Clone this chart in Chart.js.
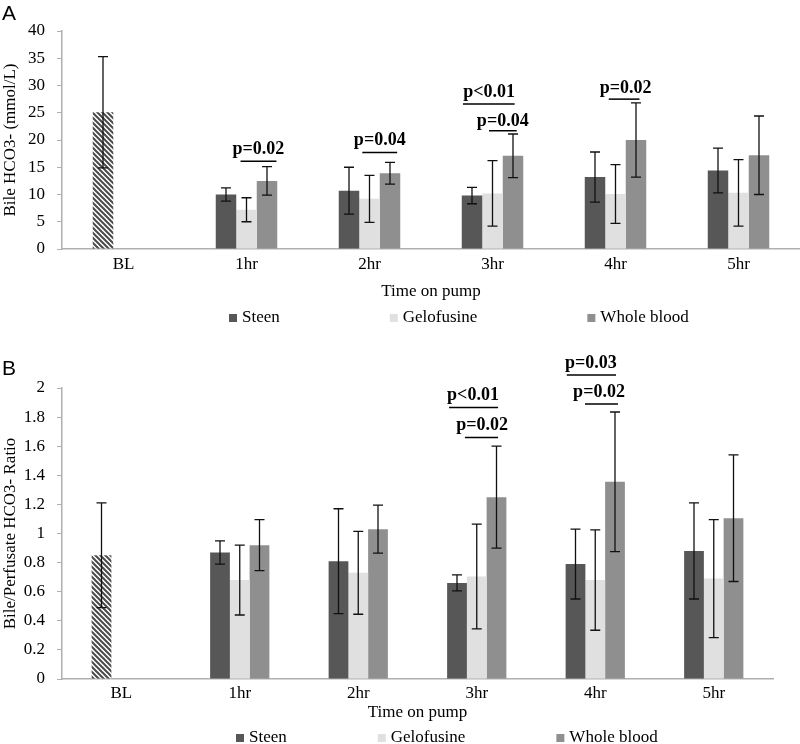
<!DOCTYPE html>
<html>
<head>
<meta charset="utf-8">
<script src="https://cdn.jsdelivr.net/npm/chart.js@4.4.1/dist/chart.umd.min.js"></script>
<style>
  body { margin: 0; background: #fff; }
  #wrap { position: relative; width: 800px; height: 744px; }
  canvas { position: absolute; left: 0; }
  #chartA { top: 0; }
  #chartB { top: 330px; }
</style>
</head>
<body>
<div id="wrap">
  <canvas id="chartA" width="800" height="330"></canvas>
  <canvas id="chartB" width="800" height="414"></canvas>
</div>
<script>
// Categorias do eixo x (BL = linha de base)
const categories = ['BL', '1hr', '2hr', '3hr', '4hr', '5hr'];

// Painel A: HCO3- na bile (mmol/L) — o valor BL fica na posição do Steen
const hco3Steen = [25.1, 10.0, 10.7, 9.8, 13.2, 14.4];
const hco3SteenErr = [10.2, 1.2, 4.3, 1.5, 4.6, 4.1];
const hco3Gelo = [null, 7.2, 9.2, 10.2, 10.1, 10.3];
const hco3GeloErr = [null, 2.2, 4.3, 6.0, 5.4, 6.1];
const hco3Blood = [null, 12.5, 13.9, 17.1, 20.0, 17.2];
const hco3BloodErr = [null, 2.6, 2.0, 4.0, 6.8, 7.2];
const hco3Ticks = { min: 0, max: 40, step: 5 };

// Painel B: razão bile/perfusato
const ratioSteen = [0.85, 0.87, 0.81, 0.66, 0.79, 0.88];
const ratioSteenErr = [0.36, 0.08, 0.36, 0.055, 0.24, 0.33];
const ratioGelo = [null, 0.68, 0.73, 0.705, 0.68, 0.69];
const ratioGeloErr = [null, 0.24, 0.285, 0.36, 0.345, 0.405];
const ratioBlood = [null, 0.92, 1.03, 1.25, 1.355, 1.105];
const ratioBloodErr = [null, 0.175, 0.165, 0.35, 0.48, 0.435];
const ratioTicks = { min: 0, max: 2, step: 0.2 };

// Valores de p: categoria, texto e alturas no eixo y
const hco3Pvals = [
  { cat: 1, text: 'p=0.02', textY: 18.3, lineY: 16.1, textAt: 0.58, from: -0.29, to: 1.46 },
  { cat: 2, text: 'p=0.04', textY: 20.0, lineY: 17.7, textAt: 0.5, from: -0.35, to: 1.35 },
  { cat: 3, text: 'p<0.01', textY: 28.7, lineY: 26.6, textAt: -0.17, from: -1.44, to: 1.08 },
  { cat: 3, text: 'p=0.04', textY: 23.5, lineY: 21.7, textAt: 0.5, from: -0.17, to: 1.18 },
  { cat: 4, text: 'p=0.02', textY: 29.5, lineY: 27.5, textAt: 0.49, from: -0.33, to: 1.17 }
];
const ratioPvals = [
  { cat: 3, text: 'p<0.01', textY: 1.95, lineY: 1.866, textAt: -0.19, from: -1.4, to: 1.08 },
  { cat: 3, text: 'p=0.02', textY: 1.74, lineY: 1.66, textAt: 0.27, from: -0.6, to: 1.08 },
  { cat: 4, text: 'p=0.03', textY: 2.17, lineY: 2.09, textAt: -0.22, from: -1.44, to: 1.05 },
  { cat: 4, text: 'p=0.02', textY: 1.97, lineY: 1.89, textAt: 0.19, from: -0.52, to: 1.15 }
];

const seriesNames = ['Steen', 'Gelofusine', 'Whole blood'];
const seriesColors = ['#575757', '#e0e0e0', '#8f8f8f'];
const axisGray = '#b0b0b0';

Chart.defaults.font.family = '"Liberation Serif", "Times New Roman", serif';
Chart.defaults.font.size = 17;
Chart.defaults.color = '#000';

// Padrão hachurado para a barra BL
function makeHatch() {
  const c = document.createElement('canvas');
  c.width = 5; c.height = 5;
  const g = c.getContext('2d');
  g.fillStyle = '#fff';
  g.fillRect(0, 0, 5, 5);
  g.strokeStyle = '#4a4a4a';
  g.lineWidth = 2;
  g.beginPath();
  g.moveTo(-1, -1); g.lineTo(6, 6);
  g.moveTo(-1, 4); g.lineTo(1, 6);
  g.moveTo(4, -1); g.lineTo(6, 1);
  g.stroke();
  return g.createPattern(c, 'repeat');
}
const hatch = makeHatch();

// Plugin: barras de erro, valores de p, legenda e letra do painel
const extrasPlugin = {
  id: 'extras',
  afterDatasetsDraw(chart, args, opts) {
    const ctx = chart.ctx;
    const yScale = chart.scales.y;
    ctx.save();
    ctx.strokeStyle = '#111';
    ctx.lineWidth = 1.3;
    chart.data.datasets.forEach((ds, di) => {
      const meta = chart.getDatasetMeta(di);
      meta.data.forEach((bar, i) => {
        const v = ds.data[i], e = ds.errors[i];
        if (v == null || e == null) return;
        const top = yScale.getPixelForValue(v + e);
        const bot = yScale.getPixelForValue(v - e);
        ctx.beginPath();
        ctx.moveTo(bar.x, top); ctx.lineTo(bar.x, bot);
        ctx.moveTo(bar.x - 5, top); ctx.lineTo(bar.x + 5, top);
        ctx.moveTo(bar.x - 5, bot); ctx.lineTo(bar.x + 5, bot);
        ctx.stroke();
      });
    });

    // valores de p centrados no grupo de barras
    const mid = chart.getDatasetMeta(1);
    ctx.fillStyle = '#000';
    ctx.strokeStyle = '#000';
    ctx.lineWidth = 1.5;
    ctx.font = 'bold 18px "Liberation Serif"';
    ctx.textAlign = 'center';
    ctx.textBaseline = 'middle';
    opts.pvalues.forEach(p => {
      const bar = mid.data[p.cat];
      const w = bar.width;
      ctx.fillText(p.text, bar.x + p.textAt * w, yScale.getPixelForValue(p.textY));
      const ly = yScale.getPixelForValue(p.lineY);
      ctx.beginPath();
      ctx.moveTo(bar.x + p.from * w, ly);
      ctx.lineTo(bar.x + p.to * w, ly);
      ctx.stroke();
    });
    ctx.restore();
  },
  afterDraw(chart, args, opts) {
    const ctx = chart.ctx;
    ctx.save();
    // legenda
    ctx.font = '17px "Liberation Serif"';
    ctx.textAlign = 'left';
    ctx.textBaseline = 'middle';
    let x = opts.legendX;
    chart.data.datasets.forEach(ds => {
      ctx.fillStyle = ds.legendColor;
      ctx.fillRect(x, opts.legendY - 4, 8, 8);
      ctx.fillStyle = '#000';
      ctx.fillText(ds.label, x + 13, opts.legendY);
      x += 13 + ctx.measureText(ds.label).width + opts.legendGap;
    });
    // letra do painel
    ctx.font = '21px "Liberation Sans"';
    ctx.textBaseline = 'alphabetic';
    ctx.fillText(opts.panel, 2, opts.panelY);
    ctx.restore();
  }
};

function makeDatasets(values, errors) {
  return values.map((vals, k) => ({
    label: seriesNames[k],
    data: vals,
    errors: errors[k],
    legendColor: seriesColors[k],
    backgroundColor: k === 0
      ? (c => (c.dataIndex === 0 ? hatch : seriesColors[0]))
      : seriesColors[k],
    borderWidth: 0,
    categoryPercentage: 0.5,
    barPercentage: 1.0
  }));
}

function makeChart(id, cfg) {
  return new Chart(document.getElementById(id), {
    type: 'bar',
    data: { labels: categories, datasets: makeDatasets(cfg.values, cfg.errors) },
    plugins: [extrasPlugin],
    options: {
      responsive: false,
      animation: false,
      layout: { padding: { top: cfg.padTop, right: cfg.padRight, left: 0, bottom: 0 } },
      plugins: {
        legend: { display: false },
        tooltip: { enabled: false },
        extras: {
          pvalues: cfg.pvalues,
          legendX: cfg.legendX, legendY: cfg.legendY, legendGap: cfg.legendGap,
          panel: cfg.panel, panelY: cfg.panelY
        }
      },
      scales: {
        x: {
          grid: { drawOnChartArea: false, drawTicks: false },
          border: { color: axisGray, width: 1.5 },
          ticks: { padding: cfg.xTickPad },
          title: { display: true, text: 'Time on pump', padding: { top: 0, bottom: cfg.xTitlePad } },
          afterFit: s => { s.height = cfg.xHeight; }
        },
        y: {
          min: cfg.ticks.min,
          max: cfg.ticks.max,
          ticks: {
            stepSize: cfg.ticks.step,
            padding: 12,
            callback: v => String(Math.round(v * 10) / 10)
          },
          grid: { drawOnChartArea: false, tickLength: 5, color: axisGray },
          border: { color: axisGray, width: 1.5 },
          title: { display: true, text: cfg.yTitle, padding: { top: 0, bottom: 0 } },
          afterFit: s => { s.width = 62; }
        }
      }
    }
  });
}

makeChart('chartA', {
  values: [hco3Steen, hco3Gelo, hco3Blood],
  errors: [hco3SteenErr, hco3GeloErr, hco3BloodErr],
  ticks: hco3Ticks,
  pvalues: hco3Pvals,
  yTitle: 'Bile HCO3- (mmol/L)',
  padTop: 31, padRight: 0,
  xHeight: 81, xTickPad: 5, xTitlePad: 28,
  legendX: 229, legendY: 318, legendGap: 110,
  panel: 'A', panelY: 20
});

makeChart('chartB', {
  values: [ratioSteen, ratioGelo, ratioBlood],
  errors: [ratioSteenErr, ratioGeloErr, ratioBloodErr],
  ticks: ratioTicks,
  pvalues: ratioPvals,
  yTitle: 'Bile/Perfusate HCO3- Ratio',
  padTop: 58, padRight: 27,
  xHeight: 65, xTickPad: 4, xTitlePad: 21,
  legendX: 236, legendY: 408, legendGap: 91,
  panel: 'B', panelY: 45
});
</script>
</body>
</html>
